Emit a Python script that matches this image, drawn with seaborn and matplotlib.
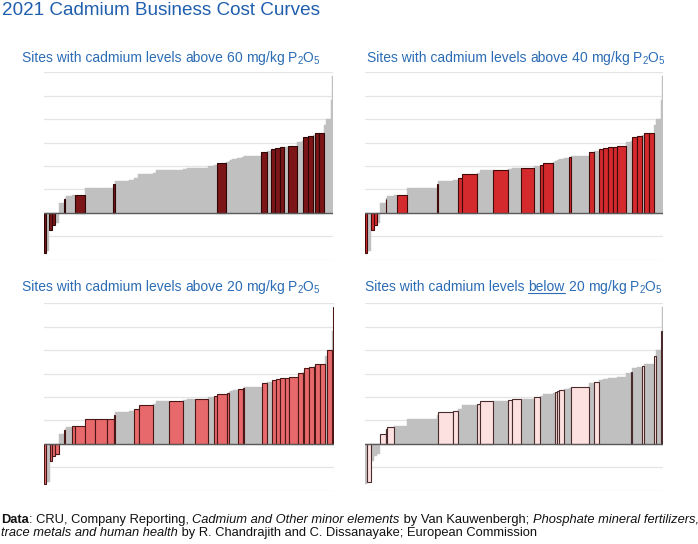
import matplotlib
matplotlib.use('Agg')
import matplotlib.pyplot as plt
from matplotlib import font_manager
import numpy as np
import seaborn as sns

# cost curve, one entry per site (sorted by cost)
# width = share of capacity (per mille), cost in grid steps
widths = [8, 11, 10, 10, 12, 18, 3, 3, 23, 8, 36, 35, 40, 23, 6, 48, 18, 14, 50, 10,
          44, 50, 14, 28, 44, 21, 11, 32, 9, 4, 9, 16, 18, 5, 60, 19, 15, 15, 15, 16,
          14, 32, 15, 5, 16, 17, 6, 16, 17, 8, 15, 4, 4]
costs = [-1.70, -1.62, -0.74, -0.52, -0.45, 0.40, 0.58, 0.62, 0.72, 0.76, 0.78, 1.05,
         1.06, 1.07, 1.21, 1.34, 1.38, 1.50, 1.65, 1.72, 1.82, 1.85, 1.88, 1.91, 1.93,
         1.98, 2.06, 2.13, 2.17, 2.22, 2.25, 2.28, 2.36, 2.40, 2.42, 2.60, 2.64, 2.71,
         2.78, 2.81, 2.83, 2.84, 3.02, 3.08, 3.23, 3.28, 3.32, 3.42, 3.43, 3.75, 4.00,
         4.82, 5.86]
# cadmium band of each site (mg/kg P2O5)
cd_band = ['>60', '<20', '>60', '>60', '20-40', '<20', '>60', '<20', '<20', '20-40',
           '>60', '20-40', '20-40', '20-40', '>60', '<20', '<20', '40-60', '40-60', '<20',
           '<20', '40-60', '<20', '<20', '40-60', '<20', '40-60', '>60', '20-40', '<20',
           '<20', '<20', '20-40', '40-60', '<20', '>60', '<20', '>60', '>60', '>60',
           '40-60', '>60', '20-40', '<20', '>60', '>60', '<20', '>60', '>60', '<20',
           '20-40', '<20', '20-40']

panel_titles = ['above 60', 'above 40', 'above 20', 'below 20']
panel_bands = [['>60'], ['>60', '40-60'], ['>60', '40-60', '20-40'], ['<20']]
panel_fill = ['#7b1517', '#d42a2e', '#e8696b', '#fde1e1']
panel_edge = ['#2e0606', '#420909', '#4a1616', '#4a2a2a']
grey = '#c0c0c0'
blue = '#2b6cb5'

sns.set_theme(style='white')


def has_font(name):
    try:
        font_manager.findfont(name, fallback_to_default=False)
        return True
    except Exception:
        return False


main_font = 'Liberation Sans' if has_font('Liberation Sans') else 'DejaVu Sans'
narrow_font = 'Liberation Sans Narrow' if has_font('Liberation Sans Narrow') else main_font
plt.rcParams['font.family'] = [main_font, 'DejaVu Sans']
plt.rcParams['mathtext.default'] = 'regular'

W, H = 698, 544
fig = plt.figure(figsize=(W / 100, H / 100), dpi=100)
fig.patch.set_facecolor('white')
renderer = fig.canvas.get_renderer()

widths = np.array(widths, dtype=float)
costs = np.array(costs)
lefts = np.concatenate([[0], np.cumsum(widths)[:-1]])

# axes boxes in pixels: left, top, right, bottom
boxes = [(44, 72, 333, 260), (365, 72, 663, 260),
         (44, 303, 334, 491), (365, 303, 663, 491)]
title_pos = [(22, 62), (367, 62), (22, 291), (365, 291)]

for i, (l, t, r, b) in enumerate(boxes):
    ax = fig.add_axes([l / W, 1 - b / H, (r - l) / W, (b - t) / H])
    hi = np.array([c in panel_bands[i] for c in cd_band])
    for yv in range(-2, 7):
        ax.axhline(yv, color='#e4e4e4', lw=0.9, zorder=0)
    ax.bar(lefts[~hi], costs[~hi], width=widths[~hi], align='edge',
           color=grey, edgecolor=grey, linewidth=0.3, zorder=1)
    ax.bar(lefts[hi], costs[hi], width=widths[hi], align='edge',
           color=panel_fill[i], edgecolor=panel_edge[i], linewidth=0.8, zorder=2)
    ax.axhline(0, color='#5a5a5a', lw=1.0, zorder=3)
    ax.set_xlim(0, widths.sum())
    ax.set_ylim(-2.02, 6.02)
    ax.set_xticks([])
    ax.set_yticks([])
    for s in ax.spines.values():
        s.set_visible(False)
    ax.patch.set_alpha(0)

    # subtitle, "below" is underlined
    x0, y0 = title_pos[i]
    word, num = panel_titles[i].split()
    runs = ['Sites with cadmium levels ', word, ' ' + num + ' mg/kg P$_2$O$_5$']
    x = x0
    for k, txt in enumerate(runs):
        tt = fig.text(x / W, 1 - y0 / H, txt, color=blue, fontsize=10.0,
                      ha='left', va='baseline')
        bb = tt.get_window_extent(renderer=renderer)
        if k == 1 and word == 'below':
            fig.add_artist(plt.Line2D([bb.x0 / W, bb.x1 / W],
                                      [(H - y0 - 2) / H] * 2, color=blue, lw=0.8))
        x += bb.width

fig.text(2 / W, 1 - 15 / H, '2021 Cadmium Business Cost Curves', color='#1f5fae',
         fontsize=13.6, ha='left', va='baseline')

# source note, mixed bold / italic
note = [
    [('Data', 'bold', 'normal'), (': CRU, Company Reporting, ', 'normal', 'normal'),
     ('Cadmium and Other minor elements', 'normal', 'italic'),
     (' by Van Kauwenbergh; ', 'normal', 'normal'),
     ('Phosphate mineral fertilizers,', 'normal', 'italic')],
    [('trace metals and human health', 'normal', 'italic'),
     (' by R. Chandrajith and C. Dissanayake; European Commission', 'normal', 'normal')],
]
for j, line in enumerate(note):
    x = 1
    y = 523 + 13 * j
    for txt, wt, st in line:
        tt = fig.text(x / W, 1 - y / H, txt, fontsize=9.3, fontweight=wt, fontstyle=st,
                      family=[narrow_font, 'DejaVu Sans'], color='#111111',
                      ha='left', va='baseline')
        x += tt.get_window_extent(renderer=renderer).width

fig.savefig('out.png', dpi=100, facecolor='white')
